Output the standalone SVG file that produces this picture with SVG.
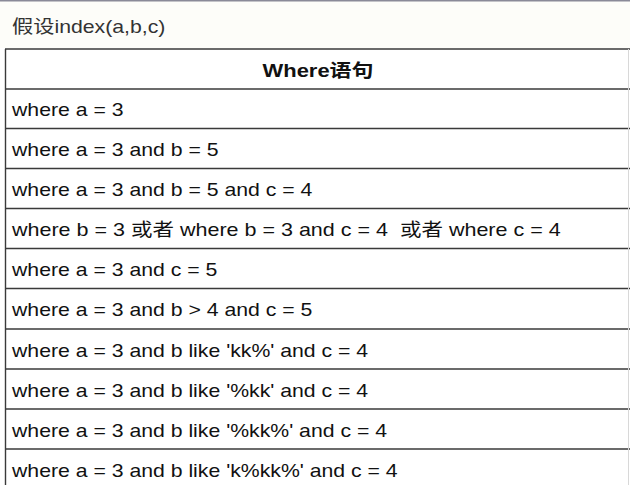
<svg xmlns="http://www.w3.org/2000/svg" width="630" height="485" viewBox="0 0 630 485">
<style>
  .t { font-family: "Liberation Sans", Arial, "Noto Sans CJK SC", sans-serif; font-size: 18px; fill: #111; }
  .title { fill: #333; }
  .h { font-weight: bold; text-anchor: middle; }
  .hl { stroke: #3a3a3a; stroke-width: 1.6; }
  .vl { stroke: #3a3a3a; stroke-width: 1.4; }
</style>
<rect x="0" y="0" width="630" height="485" fill="#ffffff"/>
<rect x="0" y="0" width="630" height="48" fill="#fdfdf9"/>
<rect x="0" y="0" width="630" height="1.5" fill="#8a8a98"/>
<g id="title">
  <text class="t title" transform="translate(12,33) scale(1.18,1)">假设index(a,b,c)</text>
</g>
<g id="table-grid">
  <line class="hl" x1="5" y1="49" x2="630" y2="49"/>
  <line class="hl" x1="5" y1="89" x2="630" y2="89"/>
  <line class="hl" x1="5" y1="128.5" x2="630" y2="128.5"/>
  <line class="hl" x1="5" y1="168.5" x2="630" y2="168.5"/>
  <line class="hl" x1="5" y1="208.5" x2="630" y2="208.5"/>
  <line class="hl" x1="5" y1="248.5" x2="630" y2="248.5"/>
  <line class="hl" x1="5" y1="288.5" x2="630" y2="288.5"/>
  <line class="hl" x1="5" y1="329" x2="630" y2="329"/>
  <line class="hl" x1="5" y1="369" x2="630" y2="369"/>
  <line class="hl" x1="5" y1="409" x2="630" y2="409"/>
  <line class="hl" x1="5" y1="449" x2="630" y2="449"/>
  <line class="vl" x1="5.5" y1="49" x2="5.5" y2="485"/>
  <line x1="628.5" y1="49" x2="628.5" y2="485" stroke="#d8d8d8" stroke-width="1"/>
</g>
<g id="header">
  <text class="t h" transform="translate(318,77) scale(1.22,1)">Where语句</text>
</g>
<g id="row1"><text class="t" transform="translate(12,116) scale(1.18,1)">where a = 3</text></g>
<g id="row2"><text class="t" transform="translate(12,156) scale(1.18,1)">where a = 3 and b = 5</text></g>
<g id="row3"><text class="t" transform="translate(12,196) scale(1.18,1)">where a = 3 and b = 5 and c = 4</text></g>
<g id="row4"><text class="t" transform="translate(12,236) scale(1.195,1)" xml:space="preserve">where b = 3 或者 where b = 3 and c = 4  或者 where c = 4</text></g>
<g id="row5"><text class="t" transform="translate(12,276) scale(1.18,1)">where a = 3 and c = 5</text></g>
<g id="row6"><text class="t" transform="translate(12,316) scale(1.18,1)">where a = 3 and b &gt; 4 and c = 5</text></g>
<g id="row7"><text class="t" transform="translate(12,357) scale(1.18,1)">where a = 3 and b like 'kk%' and c = 4</text></g>
<g id="row8"><text class="t" transform="translate(12,397) scale(1.18,1)">where a = 3 and b like '%kk' and c = 4</text></g>
<g id="row9"><text class="t" transform="translate(12,437) scale(1.18,1)">where a = 3 and b like '%kk%' and c = 4</text></g>
<g id="row10"><text class="t" transform="translate(12,477) scale(1.18,1)">where a = 3 and b like 'k%kk%' and c = 4</text></g>
</svg>
